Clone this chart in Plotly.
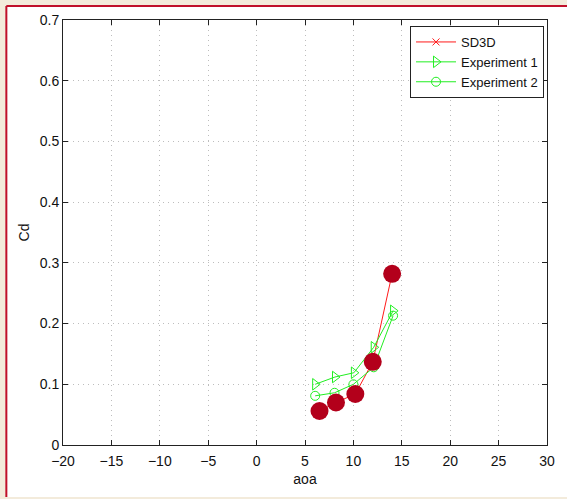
import plotly.graph_objects as go

# data
aoa_sd3d = [6.5, 8.2, 10.2, 12.0, 14.0]
cd_sd3d = [0.056, 0.070, 0.084, 0.137, 0.282]
aoa_exp1 = [6.05, 8.1, 10.05, 12.1, 14.1]
cd_exp1 = [0.100, 0.112, 0.119, 0.161, 0.221]
aoa_exp2 = [6.05, 8.05, 10.0, 12.1, 14.1]
cd_exp2 = [0.081, 0.086, 0.100, 0.128, 0.213]
x_ticks = [-20, -15, -10, -5, 0, 5, 10, 15, 20, 25, 30]
y_ticks = [0, 0.1, 0.2, 0.3, 0.4, 0.5, 0.6, 0.7]
y_ticklabels = ["0", "0.1", "0.2", "0.3", "0.4", "0.5", "0.6", "0.7"]

RED = "#ff1a1a"
GREEN = "#22ee22"
DARKRED = "#b3001b"
FONT = "Liberation Sans, Arial, Helvetica, sans-serif"

fig = go.Figure()
fig.add_trace(go.Scatter(x=aoa_sd3d, y=cd_sd3d, mode="lines+markers", name="SD3D",
                         line=dict(color=RED, width=1),
                         marker=dict(symbol="x-thin-open", size=7, color=RED, line=dict(width=1, color=RED))))
fig.add_trace(go.Scatter(x=aoa_exp1, y=cd_exp1, mode="lines+markers", name="Experiment 1",
                         line=dict(color=GREEN, width=1),
                         marker=dict(symbol="triangle-right-open", size=10, color=GREEN, line=dict(width=1))))
fig.add_trace(go.Scatter(x=aoa_exp2, y=cd_exp2, mode="lines+markers", name="Experiment 2",
                         line=dict(color=GREEN, width=1),
                         marker=dict(symbol="circle-open", size=9, color=GREEN, line=dict(width=1))))
fig.add_trace(go.Scatter(x=aoa_sd3d, y=cd_sd3d, mode="markers", showlegend=False,
                         marker=dict(symbol="circle", size=18, color=DARKRED)))

axis_common = dict(showline=True, linecolor="#222222", linewidth=1, mirror="allticks",
                   ticks="inside", ticklen=5, tickcolor="#222222",
                   showgrid=True, gridcolor="#bdbdbd", griddash="1px,4px", gridwidth=1,
                   zeroline=False, tickfont=dict(size=14, color="#111111", family=FONT))

fig.update_xaxes(range=[-20, 30], tickvals=x_ticks, ticktext=[str(v).replace("-", "\u2212") for v in x_ticks],
                 ticklabelstandoff=3,
                 title=dict(text="aoa", font=dict(size=14, color="#111111", family=FONT), standoff=6),
                 **axis_common)
fig.update_yaxes(range=[0, 0.7], tickvals=y_ticks, ticktext=y_ticklabels,
                 title=dict(text="Cd", font=dict(size=14, color="#111111", family=FONT), standoff=6),
                 **axis_common)

W, H = 567, 499
l, r, t, b = 63, 17, 20, 54
pw, ph = W - l - r, H - t - b


def px_x(p):
    return (p - l) / pw


def px_y(p):
    return (H - b - p) / ph


# white panel with red frame on the left and top
fig.add_shape(type="rect", xref="paper", yref="paper", layer="below",
              x0=px_x(6), x1=px_x(600), y0=px_y(497), y1=px_y(6),
              fillcolor="white", line=dict(width=0))
fig.add_shape(type="line", xref="paper", yref="paper", layer="below",
              x0=px_x(6), x1=px_x(600), y0=px_y(6), y1=px_y(6),
              line=dict(color="#c0102a", width=2))
fig.add_shape(type="line", xref="paper", yref="paper", layer="below",
              x0=px_x(6), x1=px_x(6), y0=px_y(497), y1=px_y(6),
              line=dict(color="#c0102a", width=2))

fig.update_layout(
    width=W, height=H,
    margin=dict(l=l, r=r, t=t, b=b),
    paper_bgcolor="#f3ebdb", plot_bgcolor="white",
    font=dict(family=FONT, size=14, color="#111111"),
    legend=dict(x=px_x(547), y=px_y(26), xanchor="right", yanchor="top",
                bgcolor="white", bordercolor="#222222", borderwidth=1,
                font=dict(size=13, family=FONT), traceorder="normal", tracegroupgap=0,
                itemwidth=40),
)

fig.write_html("out.html", config={"displayModeBar": False},
               post_script="document.body.style.margin='0';")
